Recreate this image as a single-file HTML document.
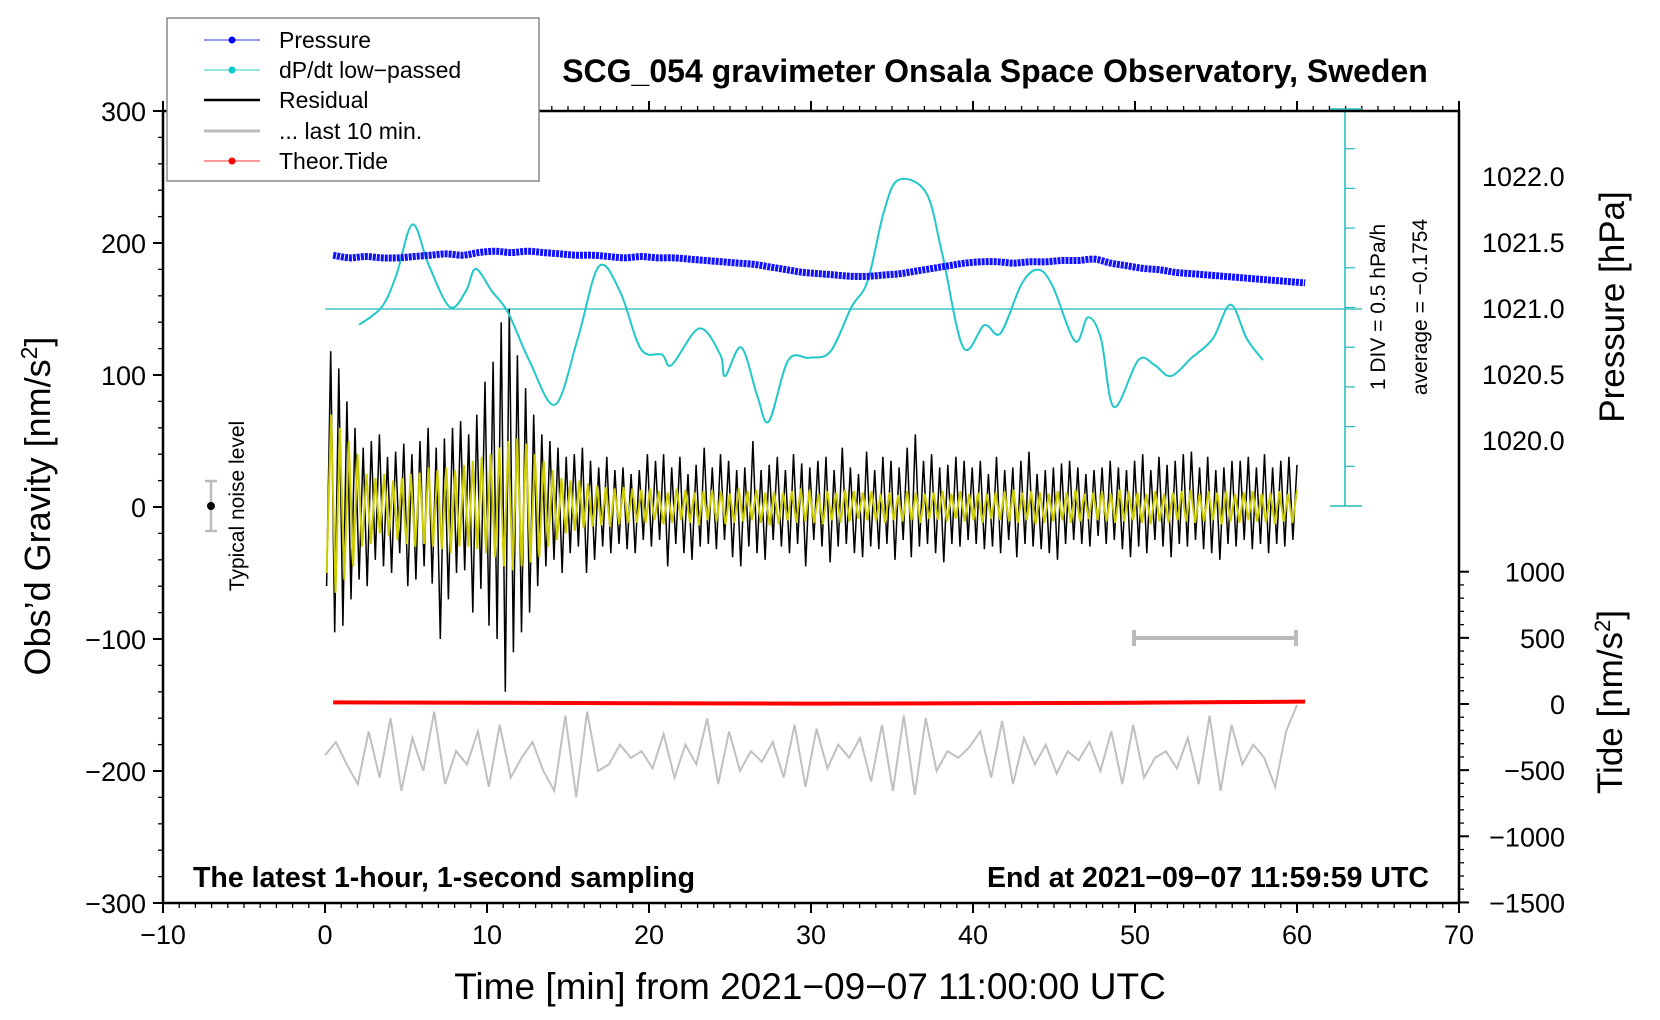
<!DOCTYPE html>
<html><head><meta charset="utf-8"><style>
html,body{margin:0;padding:0;background:#fff;overflow:hidden;width:1660px;height:1020px}
svg{display:block;font-family:"Liberation Sans",Arial,sans-serif}
</style></head><body>
<svg id="chart" width="1660" height="1020" viewBox="0 0 1660 1020">
<g id="ticks"></g>
<g id="marks"></g>
<rect x="163" y="111" width="1296" height="792" fill="none" stroke="#000" stroke-width="2.5"/>
<text x="995" y="82" font-size="32" font-weight="bold" text-anchor="middle">SCG_054 gravimeter Onsala Space Observatory, Sweden</text>
<text x="193" y="887" font-size="28.5" font-weight="bold">The latest 1-hour, 1-second sampling</text>
<text x="1429" y="887" font-size="28.5" font-weight="bold" text-anchor="end">End at 2021−09−07 11:59:59 UTC</text>
<text x="810" y="999" font-size="37" text-anchor="middle">Time [min] from 2021−09−07 11:00:00 UTC</text>
<text transform="translate(50,506) rotate(-90)" font-size="36" text-anchor="middle">Obs’d Gravity [nm/s<tspan baseline-shift="super" font-size="23">2</tspan>]</text>
<text transform="translate(1624,307) rotate(-90)" font-size="35" text-anchor="middle">Pressure [hPa]</text>
<text transform="translate(1622,702) rotate(-90)" font-size="35" text-anchor="middle">Tide [nm/s<tspan baseline-shift="super" font-size="22">2</tspan>]</text>
<text transform="translate(1385,307) rotate(-90)" font-size="21" text-anchor="middle">1 DIV = 0.5 hPa/h</text>
<text transform="translate(1427,307) rotate(-90)" font-size="21" text-anchor="middle">average = −0.1754</text>
<text transform="translate(244,506) rotate(-90)" font-size="21" text-anchor="middle">Typical noise level</text>
<g stroke="#bbb" stroke-width="2.5">
<line x1="211" y1="481" x2="211" y2="531"/><line x1="205" y1="481" x2="217" y2="481"/><line x1="205" y1="531" x2="217" y2="531"/>
</g>
<circle cx="211" cy="506" r="4" fill="#000"/>
<g>
<rect x="167" y="18" width="372" height="163" fill="#fff" stroke="#888" stroke-width="1.5"/>
<line x1="204" y1="40" x2="260" y2="40" stroke="#3333ff" stroke-width="1"/><circle cx="232" cy="40" r="3.5" fill="#00f"/>
<text x="279" y="48" font-size="23">Pressure</text>
<line x1="204" y1="70" x2="260" y2="70" stroke="#33cccc" stroke-width="1"/><circle cx="232" cy="70" r="3.5" fill="#0cc"/>
<text x="279" y="78" font-size="23">dP/dt low−passed</text>
<line x1="204" y1="100" x2="260" y2="100" stroke="#000" stroke-width="2.5"/>
<text x="279" y="108" font-size="23">Residual</text>
<line x1="204" y1="131" x2="260" y2="131" stroke="#bbb" stroke-width="3"/>
<text x="279" y="139" font-size="23">... last 10 min.</text>
<line x1="204" y1="161" x2="260" y2="161" stroke="#ff3333" stroke-width="1"/><circle cx="232" cy="161" r="3.5" fill="#f00"/>
<text x="279" y="169" font-size="23">Theor.Tide</text>
</g>
<g stroke="#bbb" stroke-width="4">
<line x1="1134" y1="638" x2="1296" y2="638"/><line x1="1134" y1="630" x2="1134" y2="646"/><line x1="1296" y1="630" x2="1296" y2="646"/>
</g>
</svg>
<script>
const pressureMin=[0,1,2,3,4,5,6,7,8,9,10,11,12,13,14,15,16,17,18,19,20,21,22,23,24,25,26,27,28,29,30,31,32,33,34,35,36,37,38,39,40,41,42,43,44,45,46,47,48,49,50,51,52,53,54,55,56,57,58,59,60];
const pressureVals=[1021.40,1021.38,1021.39,1021.38,1021.38,1021.39,1021.40,1021.41,1021.40,1021.42,1021.43,1021.42,1021.43,1021.42,1021.41,1021.40,1021.40,1021.39,1021.38,1021.39,1021.38,1021.38,1021.37,1021.36,1021.35,1021.34,1021.33,1021.31,1021.29,1021.27,1021.26,1021.25,1021.24,1021.24,1021.25,1021.26,1021.28,1021.30,1021.32,1021.34,1021.35,1021.35,1021.34,1021.35,1021.35,1021.36,1021.36,1021.37,1021.34,1021.32,1021.30,1021.29,1021.27,1021.26,1021.25,1021.24,1021.23,1021.22,1021.21,1021.20,1021.19];
const dpdtMin=[2.1,3.5,4.4,5.4,6.4,7.7,8.7,9.3,10.3,11.3,12.6,14.2,15.6,16.9,18.2,19.5,20.8,21.4,23.1,24.4,24.7,25.7,26.7,27.4,28.6,29.9,31.2,32.5,33.5,34.5,35.4,37.1,38.1,39.4,40.7,41.7,43.0,44.0,44.9,46.3,47.1,47.9,48.7,50.2,51.2,52.2,53.5,54.8,55.9,56.9,57.9];
const dpdtVals=[-0.375,-0.15,0.25,0.89,0.38,-0.15,0.05,0.33,0.05,-0.22,-0.82,-1.38,-0.55,0.36,0.05,-0.68,-0.75,-0.88,-0.42,-0.75,-1.02,-0.66,-1.28,-1.59,-0.82,-0.79,-0.71,-0.15,0.18,1.05,1.45,1.29,0.52,-0.66,-0.38,-0.48,0.14,0.32,0.12,-0.58,-0.28,-0.55,-1.41,-0.82,-0.88,-1.02,-0.79,-0.55,-0.12,-0.55,-0.82];
const dpdtAverage=-0.1754;
const residualVals=[-60,118,-95,105,-90,80,-70,60,-55,45,-60,50,-40,55,-45,38,-50,42,-35,48,-60,40,-55,50,-45,60,-58,45,-100,52,-70,60,-50,65,-48,55,-80,70,-62,95,-90,110,-100,140,-140,150,-110,115,-95,90,-80,70,-60,55,-45,50,-40,45,-50,38,-35,40,-30,45,-50,35,-40,30,-30,38,-35,28,-28,30,-32,25,-35,28,-25,40,
-30,35,-25,40,-45,30,-28,38,-35,25,-40,32,-30,45,-28,30,-32,40,-25,35,-38,28,-45,30,-30,50,-35,28,-40,32,-25,38,-30,28,-35,40,-28,33,-45,30,-25,35,-30,38,-42,28,-30,45,-28,30,-35,25,-38,42,-30,28,-32,38,-28,35,-40,30,-25,45,-38,55,-30,35,-28,40,-35,30,-42,32,-28,38,-30,35,-25,30,
-28,35,-32,25,-30,38,-35,28,-25,30,-38,35,-28,42,-30,25,-32,28,-35,30,-40,33,-28,35,-25,30,-28,25,-30,28,-22,30,-28,35,-25,30,-32,28,-38,35,-30,40,-35,28,-25,38,-30,32,-38,35,-28,40,-30,42,-25,30,-32,38,-35,28,-40,30,-28,35,-30,35,-25,38,-32,30,-28,40,-35,30,-28,35,-30,38,-25,32];
const yellowVals=[-50,70,-65,60,-55,50,-45,40,-30,25,-28,22,-20,25,-22,20,-25,22,-28,25,-30,26,-28,30,-30,28,-32,30,-35,28,-30,32,-30,35,-32,38,-35,40,-38,45,-45,50,-48,52,-45,48,-42,40,-38,35,-30,28,-25,22,-20,20,-18,20,-16,18,-15,16,-14,15,-15,14,-13,15,-12,14,-12,13,
-12,14,-10,12,-13,11,-12,14,-10,13,-12,11,-14,12,-10,13,-11,12,-13,10,-12,14,-11,12,-10,13,-12,11,-14,12,-13,11,-10,12,-12,14,-11,13,-12,10,-13,12,-10,11,-12,13,-11,12,-9,11,-10,12,-11,10,-12,11,-10,9,-11,12,-10,11,-12,10,-9,11,-10,12,-11,10,-9,12,-11,10,
-10,11,-12,10,-9,11,-10,12,-11,13,-12,11,-10,12,-13,11,-12,10,-11,12,-10,11,-12,13,-11,10,-9,11,-10,12,-11,10,-12,13,-11,12,-10,11,-12,10,-13,12,-11,10,-12,11,-10,12,-11,13,-12,10,-11,12,-10,11,-13,12,-11,10,-12,11,-10,12,-11,10,-12,11,-13,12,-11,10,-12,13];
const lastTenVals=[-188,-178,-195,-210,-170,-205,-160,-215,-175,-200,-155,-210,-185,-195,-170,-212,-165,-205,-190,-178,-200,-215,-158,-220,-155,-200,-195,-180,-190,-185,-198,-172,-205,-180,-195,-160,-210,-170,-200,-185,-193,-178,-205,-165,-212,-168,-198,-180,-190,-175,-208,-165,-215,-158,-218,-160,-200,-185,-190,-182,-170,-205,-162,-210,-175,-195,-180,-202,-185,-192,-178,-200,-170,-210,-165,-205,-190,-185,-198,-175,-210,-158,-215,-165,-195,-180,-190,-212,-170,-150];
const tideMin=[0.5,10,20,30,40,50,60.5];
const tideVals=[12,10,5,3,5,10,18];
const xTickLabels=[-10,0,10,20,30,40,50,60,70];
const yTickLabels=[300,200,100,0,-100,-200,-300];
const pressureTickLabels=[1020.0,1020.5,1021.0,1021.5,1022.0];
const tideTickLabels=[1000,500,0,-500,-1000,-1500];

const X=m=>163+(m+10)*16.2;
const YG=g=>111+(300-g)*1.32;
const YP=p=>176+(1022-p)*132;
const YD=v=>309-(v-dpdtAverage)*79.4;
const YT=t=>704-t*0.1323;
const NS='http://www.w3.org/2000/svg';
const ticks=document.getElementById('ticks'), marks=document.getElementById('marks');
function mk(tag,attrs,parent){const e=document.createElementNS(NS,tag);for(const k in attrs)e.setAttribute(k,attrs[k]);parent.appendChild(e);return e;}
function fmt(v){return String(v).replace('-','−');}
for(let m=-10;m<=70;m++){const maj=m%10===0;
 let t=mk('line',{x1:X(m),x2:X(m),y1:903,y2:903+(maj?10:5),stroke:'#000','stroke-width':maj?2:1.3},ticks);
 
 
 let t2=mk('line',{x1:X(m),x2:X(m),y1:111,y2:111-(maj?10:5),stroke:'#000','stroke-width':maj?2:1.3},ticks);
 
 }
xTickLabels.forEach(v=>{const t=mk('text',{x:X(v),y:944,'font-size':27,'text-anchor':'middle'},ticks);t.textContent=fmt(v);
 
 });
for(let g=-300;g<=300;g+=20){const maj=g%100===0;
 const t=mk('line',{x1:163-(maj?10:5),x2:163,y1:YG(g),y2:YG(g),stroke:'#000','stroke-width':maj?2:1.3},ticks);
 
 }
yTickLabels.forEach(v=>{const t=mk('text',{x:146,y:YG(v)+10,'font-size':27,'text-anchor':'end'},ticks);t.textContent=fmt(v);
 
 });
for(let i=196;i<=224;i++){const p=i/10;if(YP(p)<111)continue;const maj=i%5===0;
 const t=mk('line',{x1:1459,x2:1459+(maj?10:5),y1:YP(p),y2:YP(p),stroke:'#000','stroke-width':maj?2:1.3},ticks);
 
 }
pressureTickLabels.forEach(v=>{const t=mk('text',{x:1482,y:YP(v)+10,'font-size':27},ticks);t.textContent=v.toFixed(1);
 
 });
for(let v=-1500;v<=1000;v+=100){const maj=v%500===0;
 const t=mk('line',{x1:1459,x2:1459+(maj?10:5),y1:YT(v),y2:YT(v),stroke:'#000','stroke-width':maj?2:1.3},ticks);
 
 }
tideTickLabels.forEach(v=>{const t=mk('text',{x:1565,y:YT(v)+10,'font-size':27,'text-anchor':'end'},ticks);t.textContent=fmt(v);
 
 });
const ax=mk('line',{x1:1345,x2:1345,y1:109,y2:506,stroke:'#22bbbb','stroke-width':1.5},marks);


[109,506].forEach(y=>{const c=mk('line',{x1:1330,x2:1362,y1:y,y2:y,stroke:'#22bbbb','stroke-width':1.5},marks);
 
 });
for(let k=1;k<10;k++){const y=109+k*39.7;const c=mk('line',{x1:1345,x2:1355,y1:y,y2:y,stroke:'#22bbbb','stroke-width':1.2},marks);
 
 }
const avg=mk('line',{x1:X(0),x2:1362,y1:YD(dpdtAverage),y2:YD(dpdtAverage),stroke:'#22bbbb','stroke-width':1.3},marks);


function poly(pts,attrs,name){const p=mk('polyline',Object.assign({points:pts.map(q=>q[0].toFixed(1)+','+q[1].toFixed(1)).join(' '),fill:'none'},attrs),marks);
 
 return p;}
function smooth(pts,attrs,name){let d='M'+pts[0][0]+','+pts[0][1];
 for(let i=0;i<pts.length-1;i++){const p0=pts[Math.max(0,i-1)],p1=pts[i],p2=pts[i+1],p3=pts[Math.min(pts.length-1,i+2)];
  const c1=[p1[0]+(p2[0]-p0[0])/6,p1[1]+(p2[1]-p0[1])/6],c2=[p2[0]-(p3[0]-p1[0])/6,p2[1]-(p3[1]-p1[1])/6];
  d+=' C'+c1.join(',')+' '+c2.join(',')+' '+p2.join(',');}
 const p=mk('path',Object.assign({d:d,fill:'none'},attrs),marks);
 
 return p;}
poly(lastTenVals.map((v,i)=>[X(i*60/(lastTenVals.length-1)),YG(v)]),{stroke:'#c0c0c0','stroke-width':2},'last-10-min-line');
poly(residualVals.map((v,i)=>[X(0.1+i*59.9/(residualVals.length-1)),YG(v)]),{stroke:'#000','stroke-width':1.5},'residual-line');
poly(yellowVals.map((v,i)=>[X(0.1+i*59.9/(yellowVals.length-1)),YG(v)]),{stroke:'#cccc00','stroke-width':2},'residual-filtered-line');
smooth(dpdtMin.map((m,i)=>[X(m),YD(dpdtVals[i])]),{stroke:'#22c8c8','stroke-width':2},'dpdt-line');
smooth(pressureMin.map((m,i)=>[X(m+0.5),YP(pressureVals[i])]),{stroke:'#1010ff','stroke-width':7,'stroke-dasharray':'3 1'},'pressure-line');
poly(tideMin.map((m,i)=>[X(m),YT(tideVals[i])]),{stroke:'#ff0000','stroke-width':4},'tide-line');
</script>
</body></html>
